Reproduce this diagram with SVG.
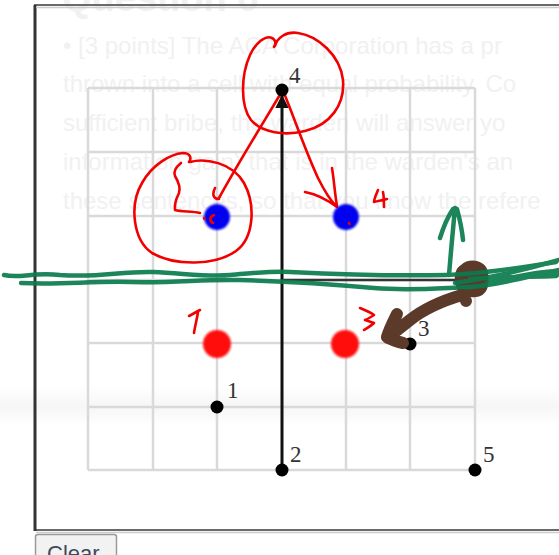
<svg xmlns="http://www.w3.org/2000/svg" width="559" height="555" viewBox="0 0 559 555">
<defs>
<style>
.bg{font-family:"Liberation Sans",Arial,sans-serif;font-size:24px;fill:#f1f1f1}
.lbl{font-family:"Liberation Serif","Times New Roman",serif;font-size:23px;fill:#333}
.grid{stroke:#d9d9d9;stroke-width:2.5;fill:none}
.pt{fill:#000}
.red{stroke:#f20000;stroke-width:2.6;fill:none;stroke-linecap:round;stroke-linejoin:round}
.grn{stroke:#0a7b4d;stroke-width:4.5;fill:none;stroke-linecap:round;stroke-linejoin:round}
.brn{stroke:#5c3a29;stroke-width:12;fill:none;stroke-linecap:round;stroke-linejoin:round}
</style>
<filter id="soft" x="-30%" y="-30%" width="160%" height="160%"><feGaussianBlur stdDeviation="1.1"/></filter>
<linearGradient id="band" x1="0" y1="0" x2="0" y2="1">
<stop offset="0" stop-color="#fff"/><stop offset="0.5" stop-color="#f6f6f6"/><stop offset="1" stop-color="#fff"/>
</linearGradient>
<marker id="ah" viewBox="0 0 10 10" refX="9" refY="5" markerWidth="4.5" markerHeight="4.5" orient="auto"><path d="M0,0 L10,5 L0,10 z" fill="#111"/></marker>
</defs>
<rect width="559" height="555" fill="#fff"/>
<rect x="0" y="386" width="559" height="40" fill="url(#band)"/>
<g id="background-text">
<text class="bg" x="62" y="11" style="font-size:38px;font-weight:bold">Question 6</text>
<text class="bg" x="63" y="54">• [3 points] The ACA Corporation has a pr</text>
<text class="bg" x="63" y="92">thrown into a cell with equal probability. Co</text>
<text class="bg" x="63" y="131">sufficient bribe, the warden will answer yo</text>
<text class="bg" x="63" y="170">information gain) that is in the warden's an</text>
<text class="bg" x="63" y="209">these sentences, so that you know the refere</text>
</g>
<g id="frame">
<rect x="35" y="5" width="560" height="525" fill="none" stroke="#6a6a6a" stroke-width="2"/>
<line x1="35" y1="5" x2="35" y2="531" stroke="#333" stroke-width="3"/>
<line x1="36" y1="7.5" x2="559" y2="7.5" stroke="#ccc" stroke-width="1.5"/>
<line x1="36" y1="532.5" x2="559" y2="532.5" stroke="#ccc" stroke-width="1.5"/>
</g>
<g id="grid">
<path class="grid" d="M88,88V470M153,88V470M217,88V470M346,88V470M410,88V470M475,88V470M88,88H475M88,152H475M88,216H475M88,280H475M88,343H475M88,407H475M88,470H475"/>
</g>
<g id="connectors">
<line x1="282" y1="470" x2="282" y2="96" stroke="#111" stroke-width="3" marker-end="url(#ah)"/>
<line x1="282" y1="280" x2="470" y2="280" stroke="#333" stroke-width="2.5" marker-end="url(#ah)"/>
<path class="red" d="M281,93 C265,120 240,160 219,198 M215,188 C212,194 213,199 219,199"/>
<path class="red" d="M284,93 C295,120 305,150 318,178 C325,192 330,200 336,206 M305,192 C316,194 326,199 337,207 M332,168 C334,180 335,195 337,206"/>
</g>
<g id="point-4"><circle class="pt" cx="282" cy="90" r="6.5"/><text class="lbl" x="289" y="83">4</text></g>
<g id="point-1"><circle class="pt" cx="217" cy="407" r="6.5"/><text class="lbl" x="227" y="398">1</text></g>
<g id="point-2"><circle class="pt" cx="282" cy="470" r="6.5"/><text class="lbl" x="290" y="462">2</text></g>
<g id="point-5"><circle class="pt" cx="475" cy="470" r="6.5"/><text class="lbl" x="483" y="462">5</text></g>
<g id="point-3"><circle class="pt" cx="410" cy="344" r="6.5"/><text class="lbl" x="418" y="336">3</text></g>
<g id="blue-left"><circle cx="217" cy="217" r="13" fill="#0000f0" filter="url(#soft)"/></g>
<g id="blue-right"><circle cx="346" cy="217" r="13" fill="#0000f0" filter="url(#soft)"/></g>
<g id="red-left"><circle cx="217" cy="344" r="14" fill="#ff0c0c" filter="url(#soft)"/></g>
<g id="red-right"><circle cx="345" cy="344" r="14" fill="#ff0c0c" filter="url(#soft)"/></g>
<g id="red-annotations">
<path class="red" d="M275,46 C277,38 286,31 298,33 C318,36 340,55 343,80 C345,105 330,125 305,131 C285,136 262,133 251,120 C240,105 241,75 250,55 C256,42 266,35 272,38 C276,40 276,44 274,47"/>
<path class="red" d="M190,162 C205,158 232,162 244,183 C256,205 254,238 236,251 C215,266 175,266 152,253 C133,240 129,205 142,183 C152,165 170,154 183,153 C190,153 192,158 189,162"/>
<path class="red" d="M181,163 C176,167 173,171 175,176 C178,181 181,187 179,193 C176,199 174,204 175,210 C182,212 192,211 200,213"/>
<path class="red" d="M214,215 C210,216 209,221 213,223 M204,218 L204.5,219"/>
<path class="red" d="M349,223 L349.5,224"/>
<path class="red" d="M378,190 C376,195 374,199 374,202 C378,201 383,200 387,199 M383,192 C384,197 384,202 384,207"/>
<path class="red" d="M189,316 C193,314 196,312 200,310 M198,312 C197,319 195,326 194,333"/>
<path class="red" d="M360,308 C365,310 370,312 374,315 C371,317 368,319 365,320 C368,321 371,322 374,323 C371,326 367,328 364,330"/>
</g>
<g id="brown-blob">
<path d="M461,265 C469,257 486,260 488,272 C490,286 487,296 476,297 C465,299 456,292 455,282 C454,274 456,268 461,265Z" fill="#5c3a29"/>
</g>
<g id="green-annotations" opacity="0.92">
<path class="grn" d="M4,275 C20,279 30,272 60,275 C100,278 120,271 153,272 C190,274 210,277 230,275 C255,273 270,271 290,272 C330,274 400,276 446,275 C480,274 520,268 556,262"/>
<path class="grn" d="M21,283 C60,285 90,281 130,282 C180,283 200,279 240,280 C280,281 330,284 374,288 C410,291 440,288 470,287 C500,285 530,276 559,270"/>
<path class="grn" d="M455,283 C490,278 525,270 559,260 M470,279 C500,277 530,277 556,276 C560,274 556,270 545,272 C520,275 500,280 487,283"/>
<path class="grn" d="M449,275 C451,250 453,230 455,208 M440,238 C444,225 449,215 453,209 M457,209 C460,220 462,230 463,240"/>
</g>
<g id="brown-annotation">
<path class="brn" d="M462,295 C445,300 425,308 410,320 C400,328 392,334 388,338 M466,301 L466,301 M397,314 C393,322 389,330 387,337 C392,340 398,342 403,343"/>
</g>
<g id="clear-button">
<path d="M35.5,555 V537 Q35.5,534.5 38,534.5 H114 Q116.5,534.5 116.5,537 V555" fill="#f2f2f2" stroke="#9a9a9a" stroke-width="1.5"/>
<text x="47" y="561" style="font-family:'Liberation Sans',Arial,sans-serif;font-size:22px;fill:#404a5c">Clear</text>
</g>
</svg>
